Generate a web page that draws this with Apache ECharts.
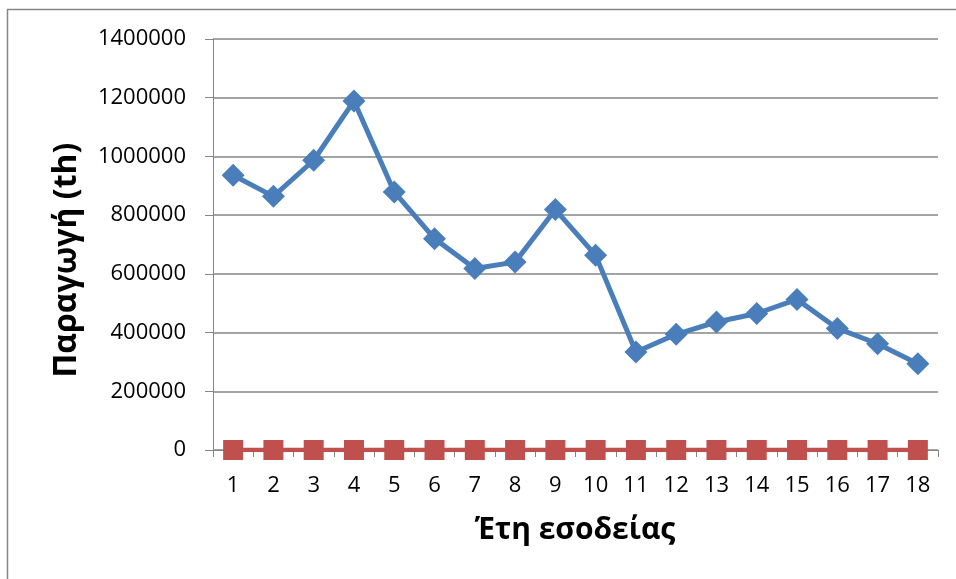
<!DOCTYPE html>
<html>
<head>
<meta charset="utf-8">
<script src="https://cdn.jsdelivr.net/npm/echarts@6/dist/echarts.min.js"></script>
<style>
  html, body { margin: 0; padding: 0; background: #ffffff; }
  #chart { width: 956px; height: 579px; }
</style>
</head>
<body>
<div id="chart"></div>
<script>
// Harvest years 1..18
const years = ['1','2','3','4','5','6','7','8','9','10','11','12','13','14','15','16','17','18'];

// Production per year
const production = [936000, 864000, 987000, 1189000, 879000, 720000, 618000, 640000, 819000,
                    663000, 334000, 394000, 436000, 465000, 513000, 414000, 362000, 294000];

// Second series, flat at zero
const secondSeries = [0, 0, 0, 0, 0, 0, 0, 0, 0, 0, 0, 0, 0, 0, 0, 0, 0, 0];

// Y axis range
const yMin = 0;
const yMax = 1400000;
const yStep = 200000;

const FONT = '"Open Sans", "Noto Sans", sans-serif';
const GRAY = '#868686';

const chart = echarts.init(document.getElementById('chart'), null, { renderer: 'canvas' });

chart.setOption({
  animation: false,
  backgroundColor: '#ffffff',
  grid: { left: 213, right: 18, top: 39, bottom: 129, containLabel: false },
  xAxis: {
    type: 'category',
    data: years,
    boundaryGap: true,
    axisLine: { show: true, lineStyle: { color: GRAY, width: 1 } },
    axisTick: { show: true, alignWithLabel: false, length: 7, lineStyle: { color: GRAY } },
    axisLabel: { color: '#000', fontFamily: FONT, fontSize: 22, margin: 25 },
    splitLine: { show: false }
  },
  yAxis: {
    type: 'value',
    min: yMin,
    max: yMax,
    interval: yStep,
    axisLine: { show: true, lineStyle: { color: GRAY, width: 1 } },
    axisTick: { show: true, length: 8, lineStyle: { color: GRAY } },
    axisLabel: {
      color: '#000', fontFamily: FONT, fontSize: 22, margin: 27,
      formatter: (v) => String(v)
    },
    splitLine: { show: true, lineStyle: { color: GRAY, width: 1.5 } }
  },
  series: [
    {
      type: 'line',
      data: production,
      symbol: 'diamond',
      symbolSize: 23,
      lineStyle: { color: '#4a7ebb', width: 5 },
      itemStyle: { color: '#4a7ebb' },
      z: 3
    },
    {
      type: 'line',
      data: secondSeries,
      symbol: 'rect',
      symbolSize: 20,
      lineStyle: { color: '#c0504d', width: 4.5 },
      itemStyle: { color: '#c0504d' },
      z: 4
    }
  ],
  graphic: [
    // frame edges
    { type: 'line', shape: { x1: 7, y1: 9.5, x2: 956, y2: 9.5 }, style: { stroke: GRAY, lineWidth: 1.5 } },
    { type: 'line', shape: { x1: 7.5, y1: 9, x2: 7.5, y2: 579 }, style: { stroke: GRAY, lineWidth: 1.5 } },
    // axis titles
    {
      type: 'text',
      x: 575, y: 530,
      style: {
        text: 'Έτη εσοδείας',
        font: 'bold 30px ' + FONT,
        fill: '#000',
        align: 'center',
        verticalAlign: 'middle'
      }
    },
    {
      type: 'text',
      x: 67, y: 260,
      rotation: Math.PI / 2,
      style: {
        text: 'Παραγωγή (th)',
        font: 'bold 32px ' + FONT,
        fill: '#000',
        align: 'center',
        verticalAlign: 'middle'
      }
    }
  ]
});
</script>
</body>
</html>
